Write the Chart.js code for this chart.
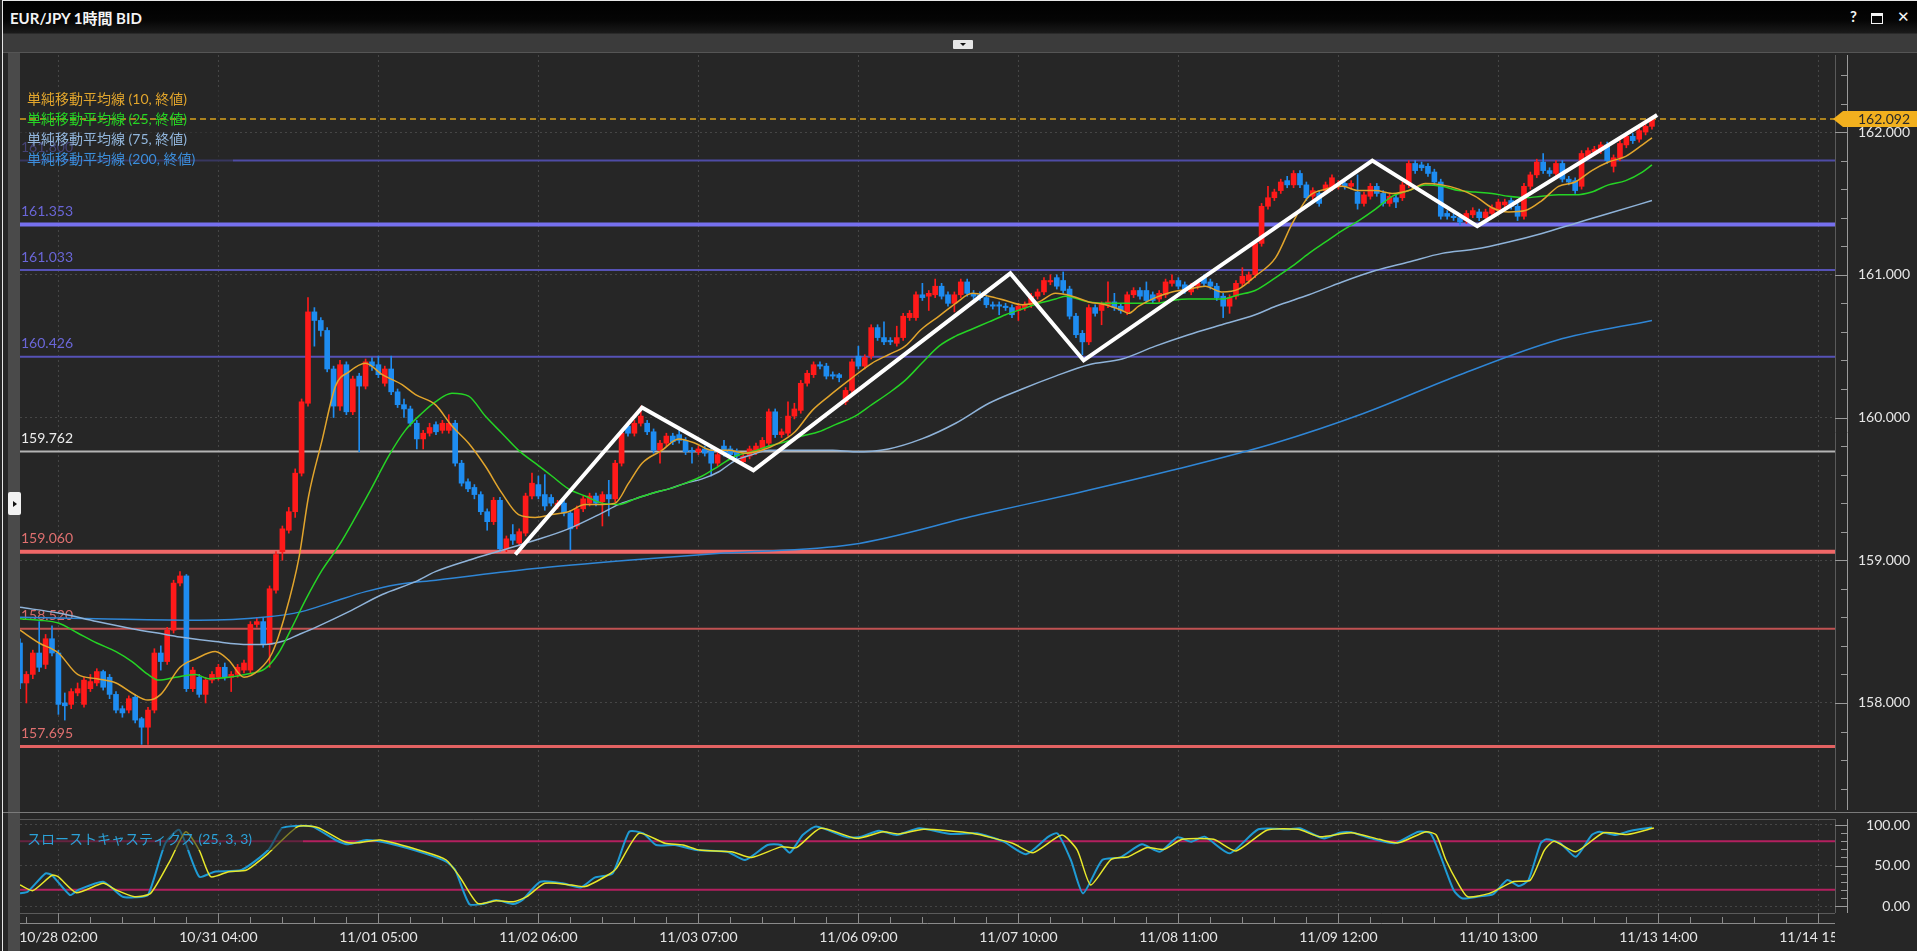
<!DOCTYPE html>
<html>
<head>
<meta charset="utf-8">
<title>EUR/JPY 1時間 BID</title>
<script src="https://cdn.jsdelivr.net/npm/chart.js@4.4.1/dist/chart.umd.min.js"></script>
<style>
  html, body { margin: 0; padding: 0; width: 1917px; height: 951px; overflow: hidden; background: #262626; font-family: Lato, "Noto Sans CJK JP", sans-serif; }
  #frame { position: absolute; left: 2px; top: 0; width: 1915px; height: 951px; border-left: 1px solid #e6e6e6; border-top: 1px solid #e6e6e6; box-sizing: border-box; }
  #titlebar { position: absolute; left: 3px; top: 1px; right: 0; height: 32px; background: linear-gradient(#000 0%, #050505 60%, #1a1a1a 100%); }
  #titlebar .name { position: absolute; left: 7px; top: 6px; color: #f4f4f4; font-weight: bold; font-size: 15px; }
  #btnHelp { position: absolute; left: 1850px; top: 7px; color: #f4f4f4; font-weight: bold; font-size: 15px; }
  #btnMax { position: absolute; left: 1871px; top: 13px; width: 10px; height: 7px; border: 1px solid #f4f4f4; border-top-width: 3px; }
  #btnClose { position: absolute; left: 1897px; top: 7px; color: #f4f4f4; font-size: 15px; }
  #toolbar { position: absolute; left: 3px; top: 33px; right: 0; height: 20px; background: #3b3b3b; border-top: 1px solid #2a2a2a; border-bottom: 1px solid #555; box-sizing: border-box; }
  #dropbtn { position: absolute; left: 953px; top: 40px; width: 20px; height: 9px; background: #e6e6e6; border-radius: 1px; }
  #dropbtn::after { content: ''; position: absolute; left: 7px; top: 3px; border-left: 3px solid transparent; border-right: 3px solid transparent; border-top: 3px solid #111; }
  #leftstrip { position: absolute; left: 8px; top: 53px; width: 12px; height: 898px; background: #4a4a4a; }
  #lefttab { position: absolute; left: 8px; top: 492px; width: 13px; height: 23px; background: #f2f2f2; border-radius: 2px; z-index: 5; }
  #lefttab::after { content: ''; position: absolute; left: 5px; top: 9px; border-top: 3px solid transparent; border-bottom: 3px solid transparent; border-left: 4px solid #111; }
  #sep { position: absolute; left: 3px; top: 812px; width: 1914px; height: 1px; background: #7a7a7a; }
  canvas { position: absolute; left: 0; }
  #main { top: 53px; }
  #stoch { top: 812px; }
</style>
</head>
<body>
<div id="frame"></div>
<div id="titlebar"><span class="name">EUR/JPY 1時間 BID</span></div>
<span id="btnHelp">?</span><div id="btnMax"></div><span id="btnClose">✕</span>
<div id="toolbar"></div>
<div id="dropbtn"></div>
<div id="leftstrip"></div>
<div id="lefttab"></div>
<div id="sep"></div>
<canvas id="main" width="1917" height="759"></canvas>
<canvas id="stoch" width="1917" height="139"></canvas>
<script>
// hourly bars, index 0 = first visible bar, 10/28 02:00 is bar 6
const tickLabels = ['10/28 02:00', '10/31 04:00', '11/01 05:00', '11/02 06:00', '11/03 07:00', '11/06 09:00',
  '11/07 10:00', '11/08 11:00', '11/09 12:00', '11/10 13:00', '11/13 14:00', '11/14 15:00'];
const tickBars = [6, 31, 56, 81, 106, 131, 156, 181, 206, 231, 256, 281];

const open = [
  158.42,158.14,158.20,158.35,158.27,158.45,158.35,158.00,157.99,158.07,
  157.99,158.10,158.14,158.22,158.18,158.06,157.96,157.95,158.04,157.89,
  157.83,157.95,158.35,158.29,158.51,158.84,158.89,158.10,158.18,158.06,
  158.16,158.18,158.25,158.18,158.20,158.23,158.23,158.55,158.57,158.41,
  158.79,159.06,159.21,159.34,159.61,160.10,160.74,160.68,160.61,160.34,
  160.08,160.37,160.04,160.29,160.22,160.39,160.37,160.24,160.34,160.18,
  160.09,160.06,159.96,159.85,159.89,
  159.95,159.91,159.91,159.96,159.68,159.55,159.51,159.46,159.34,159.27,
  159.42,159.08,159.18,159.12,159.19,159.45,159.53,159.46,159.44,159.38,
  159.40,159.33,159.24,159.36,159.40,159.45,159.41,159.46,159.43,159.68,
  159.94,159.89,159.96,159.96,159.90,159.77,159.82,159.87,159.88,159.84,
  159.77,159.76,159.78,159.77,159.68,159.80,159.78,159.76,159.69,159.73,
  159.76,159.78,159.82,160.04,159.88,159.89,160.01,160.05,160.24,160.30,
  160.37,160.36,160.30,160.30,160.11,160.19,
  160.43,160.36,160.43,160.63,160.56,160.54,160.52,160.56,160.70,160.70,
  160.86,160.85,160.86,160.92,160.86,160.80,160.86,160.95,160.87,160.86,
  160.84,160.79,160.79,160.78,160.77,160.75,160.77,160.79,160.85,160.88,
  160.95,160.98,160.96,160.90,160.71,160.59,160.53,160.77,160.75,160.79,
  160.81,160.78,160.74,160.86,160.89,160.89,160.86,160.83,160.86,160.94,
  160.96,160.93,160.88,160.92,160.98,160.95,160.92,160.85,160.78,160.85,
  160.94,160.96,161.00,161.22,161.48,161.54,
  161.59,161.66,161.63,161.71,161.63,161.55,161.57,161.59,161.61,161.62,
  161.64,161.62,161.58,161.50,161.55,161.62,161.57,161.50,161.54,161.54,
  161.63,161.78,161.77,161.76,161.72,161.65,161.43,161.41,161.40,161.38,
  161.42,161.44,161.40,161.43,161.45,161.49,161.52,161.48,161.41,161.62,
  161.70,161.79,161.73,161.71,161.78,161.67,161.66,161.62,161.83,161.86,
  161.87,161.91,161.76,161.82,161.91,161.97,161.95,162.00,162.04
];
const high = [
  158.45,158.22,158.37,158.57,158.48,158.54,158.37,158.07,158.10,158.14,
  158.18,158.20,158.24,158.23,158.20,158.08,157.98,158.05,158.06,157.90,
  157.97,158.38,158.40,158.53,158.86,158.92,158.90,158.25,158.20,158.18,
  158.22,158.27,158.28,158.22,158.27,158.30,158.57,158.60,158.60,158.82,
  159.06,159.24,159.37,159.64,160.13,160.84,160.77,160.70,160.63,160.36,
  160.40,160.39,160.29,160.31,160.41,160.42,160.43,160.36,160.43,160.20,
  160.13,160.08,159.98,159.91,159.96,
  159.97,159.98,160.02,159.98,159.70,159.57,159.53,159.48,159.36,159.44,
  159.44,159.17,159.25,159.22,159.47,159.61,159.59,159.60,159.46,159.42,
  159.42,159.35,159.38,159.45,159.47,159.47,159.48,159.56,159.70,159.91,
  159.96,159.98,160.08,159.98,159.92,159.84,159.89,159.89,159.93,159.86,
  159.79,159.80,159.80,159.79,159.76,159.84,159.80,159.78,159.75,159.80,
  159.82,159.86,160.06,160.06,159.92,160.11,160.10,160.26,160.33,160.39,
  160.39,160.38,160.32,160.31,160.21,160.41,
  160.50,160.44,160.65,160.65,160.67,160.56,160.64,160.73,160.75,160.88,
  160.94,160.89,160.97,160.94,160.88,160.88,160.97,160.97,160.89,160.88,
  160.86,160.81,160.81,160.80,160.79,160.80,160.81,160.87,160.90,160.98,
  161.00,161.00,161.02,160.92,160.73,160.61,160.79,160.79,160.81,160.95,
  160.87,160.80,160.88,160.91,160.91,160.95,160.88,160.89,160.97,161.00,
  160.98,160.95,160.94,160.96,161.00,160.97,160.94,160.87,160.86,160.96,
  161.05,161.02,161.24,161.50,161.62,161.60,
  161.67,161.69,161.73,161.73,161.65,161.61,161.59,161.65,161.70,161.66,
  161.66,161.66,161.70,161.58,161.64,161.64,161.59,161.57,161.56,161.65,
  161.80,161.80,161.79,161.78,161.74,161.67,161.45,161.43,161.42,161.45,
  161.47,161.46,161.46,161.49,161.53,161.53,161.54,161.50,161.64,161.72,
  161.81,161.85,161.75,161.80,161.80,161.69,161.68,161.87,161.89,161.90,
  161.93,161.93,161.84,161.94,161.99,161.99,162.03,162.06,162.11
];
const low = [
  158.10,158.00,158.17,158.22,158.24,158.33,157.92,157.88,157.96,158.05,
  157.97,158.08,158.12,158.09,158.03,157.93,157.90,157.93,157.86,157.71,
  157.71,157.93,158.23,158.27,158.49,158.82,158.08,158.08,158.04,158.00,
  158.14,158.16,158.16,158.08,158.18,158.21,158.21,158.53,158.39,158.25,
  158.77,159.00,159.19,159.30,159.59,160.08,160.50,160.57,160.32,160.00,
  160.05,160.02,160.02,159.76,160.20,160.33,160.28,160.22,160.16,160.07,
  160.00,159.94,159.78,159.78,159.87,
  159.88,159.89,159.89,159.66,159.52,159.48,159.43,159.32,159.21,159.25,
  159.06,159.06,159.11,159.10,159.17,159.43,159.43,159.35,159.38,159.36,
  159.31,159.07,159.22,159.34,159.38,159.38,159.24,159.31,159.41,159.66,
  159.87,159.87,159.94,159.88,159.75,159.68,159.80,159.81,159.82,159.74,
  159.68,159.74,159.73,159.59,159.66,159.73,159.72,159.70,159.67,159.71,
  159.74,159.76,159.80,159.86,159.86,159.87,159.99,160.03,160.22,160.28,
  160.34,160.27,160.27,160.25,160.09,160.17,
  160.34,160.34,160.41,160.54,160.51,160.51,160.50,160.54,160.68,160.68,
  160.82,160.75,160.84,160.83,160.78,160.74,160.84,160.85,160.83,160.82,
  160.77,160.76,160.72,160.75,160.70,160.68,160.75,160.77,160.83,160.86,
  160.93,160.90,160.87,160.69,160.56,160.44,160.51,160.71,160.65,160.77,
  160.75,160.73,160.72,160.84,160.83,160.80,160.80,160.81,160.84,160.92,
  160.90,160.87,160.86,160.90,160.92,160.90,160.82,160.70,160.73,160.83,
  160.92,160.94,160.98,161.20,161.46,161.52,
  161.57,161.61,161.61,161.61,161.52,161.52,161.48,161.57,161.59,161.60,
  161.60,161.60,161.46,161.48,161.53,161.55,161.48,161.48,161.47,161.52,
  161.61,161.71,161.73,161.69,161.63,161.39,161.39,161.38,161.35,161.36,
  161.40,161.38,161.38,161.41,161.43,161.47,161.46,161.38,161.39,161.60,
  161.68,161.71,161.69,161.69,161.65,161.63,161.57,161.60,161.81,161.84,
  161.85,161.78,161.72,161.80,161.89,161.92,161.93,161.98,162.02
];
const close = [
  158.14,158.20,158.35,158.25,158.45,158.35,157.99,157.98,158.08,158.10,
  158.16,158.15,158.22,158.11,158.06,157.95,157.93,158.03,157.88,157.83,
  157.95,158.35,158.29,158.51,158.84,158.89,158.10,158.23,158.06,158.16,
  158.20,158.25,158.18,158.20,158.25,158.28,158.55,158.57,158.41,158.80,
  159.04,159.22,159.34,159.61,160.11,160.74,160.68,160.61,160.34,160.08,
  160.37,160.04,160.27,160.22,160.39,160.36,160.30,160.34,160.18,160.09,
  160.06,159.96,159.85,159.89,159.93,
  159.90,159.96,159.96,159.68,159.54,159.50,159.46,159.34,159.27,159.42,
  159.08,159.15,159.14,159.20,159.45,159.54,159.45,159.38,159.40,159.40,
  159.33,159.22,159.36,159.43,159.45,159.40,159.46,159.43,159.68,159.89,
  159.89,159.96,160.01,159.90,159.77,159.82,159.87,159.83,159.84,159.76,
  159.76,159.78,159.75,159.68,159.74,159.75,159.74,159.73,159.73,159.78,
  159.80,159.84,160.04,159.88,159.90,160.01,160.06,160.24,160.31,160.37,
  160.36,160.29,160.29,160.28,160.19,160.39,
  160.36,160.42,160.63,160.56,160.53,160.53,160.56,160.71,160.73,160.86,
  160.84,160.87,160.92,160.85,160.80,160.86,160.95,160.87,160.85,160.84,
  160.79,160.78,160.78,160.77,160.72,160.78,160.79,160.85,160.88,160.96,
  160.96,160.92,160.89,160.71,160.58,160.53,160.77,160.73,160.79,160.81,
  160.77,160.75,160.86,160.89,160.85,160.82,160.82,160.87,160.95,160.96,
  160.92,160.89,160.92,160.94,160.94,160.92,160.84,160.78,160.84,160.94,
  160.99,161.00,161.22,161.48,161.54,161.58,
  161.65,161.63,161.71,161.63,161.54,161.59,161.50,161.63,161.68,161.63,
  161.62,161.64,161.50,161.56,161.62,161.57,161.50,161.55,161.51,161.63,
  161.78,161.73,161.75,161.71,161.65,161.41,161.41,161.40,161.37,161.43,
  161.45,161.40,161.44,161.47,161.51,161.51,161.48,161.41,161.62,161.70,
  161.79,161.73,161.71,161.78,161.67,161.65,161.59,161.85,161.87,161.88,
  161.91,161.80,161.82,161.92,161.97,161.94,162.01,162.04,162.092
];

// moving averages: [bar, price]
const sma10 = [[0,158.51],[3,158.42],[6,158.35],[9,158.20],[12,158.17],[15,158.14],[17.5,158.07],[20,158.02],[22,158.06],[25,158.25],[27.5,158.31],[30.5,158.36],[32.6,158.30],[35,158.18],[37.3,158.23],[39.4,158.35],[41.5,158.63],[43.6,159.02],[45.1,159.45],[47.2,159.84],[49.3,160.22],[51.4,160.32],[54,160.38],[56.6,160.30],[59.7,160.23],[61.8,160.16],[64.9,160.09],[67.5,159.94],[70.1,159.82],[72.7,159.66],[75.3,159.47],[77.9,159.32],[80.5,159.30],[83.1,159.32],[85.7,159.34],[88.3,159.39],[90.9,159.39],[93,159.40],[95.1,159.54],[97.2,159.68],[100.3,159.77],[102.9,159.85],[105.5,159.82],[108.1,159.77],[110.7,159.77],[113.3,159.75],[115.9,159.77],[118.5,159.82],[121.1,159.90],[123.8,160.05],[126.4,160.15],[129.5,160.26],[133.1,160.38],[135.7,160.44],[138.3,160.50],[140.9,160.62],[143.6,160.71],[146.2,160.80],[148.8,160.87],[151.4,160.85],[154,160.82],[156.6,160.79],[159.2,160.81],[161.8,160.87],[164.4,160.85],[167,160.81],[169.6,160.79],[172.2,160.75],[173.2,160.73],[174.8,160.78],[177.4,160.84],[180,160.88],[182.6,160.90],[185.2,160.92],[187.8,160.88],[190.4,160.90],[193,160.99],[196.2,161.12],[198.8,161.36],[201.4,161.55],[204,161.60],[206.6,161.62],[209.2,161.59],[211.8,161.59],[214.4,161.57],[217,161.59],[219.6,161.64],[222.2,161.63],[224.8,161.60],[227.4,161.55],[230,161.47],[232.6,161.44],[235.2,161.45],[237.8,161.52],[240.4,161.62],[243,161.65],[245.6,161.73],[248.2,161.79],[250.9,161.83],[253.5,161.91],[255,161.96]];
const sma25 = [[0,158.59],[3,158.58],[6,158.56],[9,158.49],[12,158.42],[15,158.36],[17.5,158.29],[20,158.20],[21.7,158.16],[24.3,158.18],[27.4,158.20],[29.5,158.17],[32.6,158.18],[35.2,158.20],[38.3,158.24],[40.4,158.35],[42.5,158.53],[44.6,158.72],[47.2,158.93],[49.8,159.10],[52.4,159.30],[55,159.51],[57.6,159.73],[60.2,159.91],[62.8,160.03],[64.9,160.11],[67.5,160.17],[70.1,160.15],[72.7,160.01],[75.3,159.89],[77.9,159.77],[80.5,159.68],[83.1,159.59],[85.7,159.50],[88.3,159.45],[90.9,159.40],[93.5,159.39],[96.1,159.43],[98.8,159.47],[101.4,159.50],[104,159.54],[106.6,159.59],[109.2,159.66],[111.8,159.73],[114.4,159.76],[117,159.80],[119.6,159.83],[122.2,159.87],[124.8,159.90],[127.4,159.95],[130.5,160.01],[133.1,160.09],[135.7,160.17],[138.3,160.26],[140.9,160.38],[143.6,160.50],[146.2,160.57],[148.8,160.62],[151.4,160.67],[154,160.72],[156.6,160.76],[159.2,160.80],[161.8,160.83],[163.3,160.85],[167,160.81],[169.6,160.80],[172.2,160.80],[174.8,160.80],[177.4,160.80],[180,160.82],[182.6,160.83],[185.2,160.83],[187.8,160.83],[190.4,160.86],[193,160.89],[196.2,160.98],[198.8,161.06],[201.4,161.15],[204,161.23],[206.6,161.31],[209.2,161.38],[211.8,161.46],[214.4,161.55],[217,161.59],[219.6,161.63],[222.2,161.62],[224.8,161.59],[227.4,161.58],[230,161.57],[232.6,161.55],[235.2,161.54],[237.8,161.55],[240.4,161.56],[243,161.56],[245.6,161.58],[248.2,161.63],[250.9,161.66],[253.5,161.72],[255,161.77]];
const sma75 = [[0,158.67],[6,158.63],[12,158.57],[17.5,158.52],[22.7,158.48],[25.3,158.46],[30.5,158.43],[35.7,158.41],[38.3,158.41],[40.9,158.43],[43.6,158.48],[46.2,158.53],[51.4,158.64],[56.6,158.76],[61.8,158.85],[64.9,158.92],[70.1,159.00],[75.3,159.07],[80.5,159.14],[85.7,159.22],[90.9,159.33],[93.5,159.39],[96.1,159.43],[98.8,159.47],[101.4,159.50],[104,159.54],[106.6,159.57],[109.2,159.62],[111.8,159.70],[114.4,159.74],[117,159.77],[122,159.77],[127,159.77],[130.5,159.76],[135.7,159.78],[140.9,159.85],[146.2,159.96],[151.4,160.10],[156.6,160.20],[161.8,160.29],[167,160.37],[172.2,160.41],[177.4,160.50],[182.6,160.58],[187.8,160.65],[193,160.72],[196.2,160.78],[201.4,160.86],[206.6,160.95],[211.8,161.03],[217,161.09],[222.2,161.15],[227.4,161.18],[232.6,161.23],[237.8,161.29],[243,161.36],[248.2,161.43],[255,161.52]];
const sma200 = [[0,158.60],[12,158.59],[28,158.58],[38,158.60],[44,158.64],[49,158.71],[54,158.78],[59,158.83],[65,158.86],[80,158.94],[95,159.00],[110,159.05],[130,159.11],[150,159.32],[165,159.47],[180,159.63],[196,159.82],[210,160.03],[225,160.30],[240,160.54],[255,160.68]];

// slow stochastics (25,3,3): [bar, value]
const stochK = [[0,15.6],[1.2,17.7],[4,40.3],[5,38],[7.8,13.6],[9.1,19.8],[13,30],[16,11.5],[17.9,10.7],[20,13.6],[22.7,77.4],[24.9,93.8],[28,36.2],[30.4,42.4],[34.6,44.4],[38.8,69.1],[40.9,95.9],[43,98.8],[45.7,98],[49.3,81.5],[51.3,76.1],[54.1,81.5],[57.6,77.4],[63.2,65],[66.6,54.8],[68,44.4],[70.2,2.5],[72.3,2.5],[74.4,7.4],[77.1,2.5],[78.5,7.4],[81.3,30],[84.8,28],[87.6,23],[89.8,35],[92.6,40.3],[95.2,91.7],[97.4,89.7],[99.4,75.3],[102.3,75.3],[105.7,69.1],[110.5,67],[113.3,56.8],[116.8,75.3],[118.9,75.3],[120.3,65.8],[122.3,87.6],[124.4,98],[129.3,84.8],[131.4,85.6],[134.2,93],[137,87.6],[140.5,95.9],[145.4,88.9],[149.5,89.7],[153.7,79.4],[157.2,63.8],[160.7,85.6],[162.1,89.7],[164.2,56.8],[166.1,15.6],[169.1,56.8],[171.9,60],[175.3,76.1],[178.1,67],[180.9,84.8],[183,79.4],[185.1,85.6],[189,65],[193.5,94.7],[198.4,94.7],[200,95.9],[203.7,83.5],[206.2,90.5],[208,91],[211.1,83.5],[214.8,77.4],[218.5,91.7],[220.4,89.7],[221.9,63],[224,19.8],[225.3,9.5],[227.7,11.5],[230.2,14.8],[232.4,32.1],[234.2,24.7],[235.7,32],[237.6,77.4],[238.5,82.3],[240.7,77.4],[243.1,60.9],[245.6,87.6],[246.8,91.7],[249.3,87.6],[251.7,93],[255,97]];
const stochD = [[0,26],[2,19],[5,38],[6,36],[8.8,16.5],[13,28],[15,19.8],[17.9,11.5],[20.4,15.6],[23.5,56.8],[25.9,91.7],[28,69],[29.8,36.2],[32.6,42.4],[35.4,44.4],[38.8,65],[43.4,98],[46.5,97],[50.7,79.4],[52.8,78],[56.3,81.5],[63.2,67],[66.6,56.8],[68.7,36.2],[71.5,3.3],[74.4,6.6],[77.1,5.4],[79.2,11.5],[82,28],[86.2,26],[88.3,24],[91.8,38],[93.2,46.5],[96.7,89.7],[100.8,77.4],[103.6,75.3],[106.2,69],[111.2,67],[114.3,60],[118.9,73],[121.3,72],[125.1,95.9],[130.7,83.5],[134.9,91.7],[137.3,88.9],[141.2,94.7],[148.8,89.7],[155.1,77.4],[158.3,65.8],[162.8,87.6],[165.2,69],[167.3,26],[170.5,57.6],[173.2,60.9],[176,72],[178.8,70],[181.6,82.3],[186.5,82.3],[190,68],[194.9,93.8],[199.7,94.7],[203.1,85.6],[208,90.5],[212.4,82.3],[215.4,78],[219.7,91.7],[221.3,87.6],[222.8,56.8],[224.7,28],[226.2,11.5],[229.6,15.6],[233.3,30],[236,32],[238.2,69],[239.7,80],[243.1,67],[247.4,90.5],[251.1,88.3],[255.3,96.4]];
const stochBands = [80, 20];

// drawn price levels and the hand-drawn zigzag
const levels = [161.800, 161.353, 161.033, 160.426, 159.762, 159.060, 158.520, 157.695];
const levelColors = ['#4f4ca6', '#7670ee', '#5652b6', '#5652b6', '#b4b4b4', '#f06868', '#c05252', '#e36262'];
const levelTextColors = ['#6a66d8', '#6a66d8', '#6a66d8', '#6a66d8', '#ececec', '#e07070', '#d86c6c', '#e07070'];
const levelWidths = [2, 4, 2, 2, 2, 4, 2, 3];
const zigzagBars = [77.4, 97.2, 114.6, 154.75, 166.2, 211.3, 227.7, 255.8];
const zigzagPrices = [159.04, 160.07, 159.63, 161.01, 160.40, 161.80, 161.34, 162.12];
const lastPrice = 162.092;

const legendLabels = ['単純移動平均線 (10, 終値)', '単純移動平均線 (25, 終値)', '単純移動平均線 (75, 終値)', '単純移動平均線 (200, 終値)'];
const legendColors = ['#e2a52c', '#25d425', '#92b6dc', '#3b8edb'];
const stochTitle = 'スローストキャスティクス (25, 3, 3)';

const xMin = 0, xMax = 283.6;
const FONT = '14px Lato, "Noto Sans CJK JP", sans-serif';
const UP = '#ff1a1a', DOWN = '#1e8cf0';
const GRID = '#464646';
const VEIL = 'rgba(38,38,38,0.55)';

const isInt = (v) => Math.abs(v - Math.round(v)) < 1e-6;
const pts = (arr) => arr.map(([x, y]) => ({x, y}));
const flat = (v) => [{x: xMin, y: v}, {x: xMax, y: v}];

const lineDs = (data, color, width, order, extra) => Object.assign({
  type: 'line', data, borderColor: color, borderWidth: width, pointRadius: 0,
  fill: false, order, cubicInterpolationMode: 'monotone'
}, extra || {});

const xScale = () => ({
  type: 'linear', min: xMin, max: xMax, offset: false,
  grid: {color: GRID, drawTicks: false, offset: false},
  border: {display: false, dash: [2, 3]},
  ticks: {display: false},
  afterBuildTicks: (s) => { s.ticks = tickBars.map((v) => ({value: v})); },
  afterFit: (s) => { s.height = 0; s.paddingLeft = 0; s.paddingRight = 0; }
});

const yScale = (min, max, values, labelTest, digits) => ({
  position: 'right', min, max,
  grid: {color: (c) => (c.tick && labelTest(c.tick.value) ? GRID : 'rgba(0,0,0,0)'), drawTicks: false},
  border: {display: false, dash: [2, 3]},
  ticks: {color: '#e6e6e6', font: {family: 'Lato', size: 14}, crossAlign: 'far', autoSkip: false,
    callback: (v) => (labelTest(v) ? Number(v).toFixed(digits) : '')},
  afterBuildTicks: (s) => { s.ticks = values.map((v) => ({value: v})); },
  afterFit: (s) => { s.width = 75; s.paddingTop = 0; s.paddingBottom = 0; }
});

const priceTicks = [];
for (let k = 0; k <= 25; k++) priceTicks.push(+(157.4 + k * 0.2).toFixed(1));
const stochTicks = [0, 10, 20, 30, 40, 50, 60, 70, 80, 90, 100];

const drawYAxisDecor = (chart, majorTest) => {
  const {ctx, chartArea: a, scales: {y}} = chart;
  ctx.save();
  ctx.lineWidth = 1;
  ctx.strokeStyle = '#5a5a5a';
  ctx.beginPath(); ctx.moveTo(a.right + 0.5, a.top); ctx.lineTo(a.right + 0.5, a.bottom); ctx.stroke();
  ctx.strokeStyle = '#9a9a9a';
  ctx.beginPath(); ctx.moveTo(a.right + 12.5, a.top); ctx.lineTo(a.right + 12.5, a.bottom); ctx.stroke();
  y.ticks.forEach((t) => {
    const py = Math.round(y.getPixelForValue(t.value)) + 0.5;
    ctx.beginPath();
    ctx.moveTo(a.right + (majorTest(t.value) ? 0 : 6), py);
    ctx.lineTo(a.right + 12, py);
    ctx.stroke();
  });
  ctx.restore();
};

const mainDecor = {
  id: 'mainDecor',
  beforeDatasetsDraw(chart) {
    const {ctx, chartArea: a, scales: {y}} = chart;
    ctx.save();
    ctx.font = FONT;
    ctx.textBaseline = 'middle';
    levels.forEach((v, i) => {
      ctx.fillStyle = levelTextColors[i];
      ctx.fillText(v.toFixed(3), a.left + 1, y.getPixelForValue(v) - 13);
    });
    ctx.restore();
  },
  beforeDatasetDraw(chart, args) {
    // veil behind the legend: over the level lines, under the price line
    if (args.index !== 7) return;
    const {ctx, chartArea: a} = chart;
    ctx.save();
    ctx.fillStyle = VEIL;
    ctx.fillRect(a.left, a.top + 33, 213, 82);
    ctx.restore();
  },
  afterDatasetsDraw(chart) {
    const {ctx, chartArea: a} = chart;
    ctx.save();
    ctx.font = FONT;
    ctx.textBaseline = 'middle';
    legendLabels.forEach((t, i) => {
      ctx.fillStyle = legendColors[i];
      ctx.fillText(t, a.left + 7, a.top + 44 + i * 20.3);
    });
    ctx.restore();
  },
  afterDraw(chart) {
    drawYAxisDecor(chart, isInt);
    const {ctx, chartArea: a, scales: {y}} = chart;
    const py = y.getPixelForValue(lastPrice);
    ctx.save();
    ctx.fillStyle = '#f2b01e';
    ctx.beginPath();
    ctx.moveTo(a.right - 2, py);
    ctx.lineTo(a.right + 8, py - 8);
    ctx.lineTo(chart.width, py - 8);
    ctx.lineTo(chart.width, py + 8);
    ctx.lineTo(a.right + 8, py + 8);
    ctx.closePath();
    ctx.fill();
    ctx.fillStyle = '#2a2a2a';
    ctx.font = FONT;
    ctx.textAlign = 'right';
    ctx.textBaseline = 'middle';
    ctx.fillText(lastPrice.toFixed(3), chart.width - 7, py + 1);
    ctx.restore();
  }
};

const stochDecor = {
  id: 'stochDecor',
  afterDatasetsDraw(chart) {
    // label with its veil, over the lines
    const {ctx, chartArea: a} = chart;
    ctx.save();
    ctx.fillStyle = VEIL;
    ctx.fillRect(a.left, a.top + 9, 283, 22);
    ctx.font = FONT;
    ctx.textBaseline = 'middle';
    ctx.fillStyle = '#2ba2d8';
    ctx.fillText(stochTitle, a.left + 7, a.top + 20);
    ctx.restore();
  },
  afterDraw(chart) {
    drawYAxisDecor(chart, (v) => v % 50 === 0);
    const {ctx, chartArea: a, scales: {x}} = chart;
    ctx.save();
    ctx.lineWidth = 1;
    ctx.strokeStyle = '#5a5a5a';
    ctx.beginPath(); ctx.moveTo(a.left, a.top + 0.5); ctx.lineTo(a.right, a.top + 0.5); ctx.stroke();
    ctx.beginPath(); ctx.moveTo(a.left, a.bottom + 0.5); ctx.lineTo(a.right, a.bottom + 0.5); ctx.stroke();
    ctx.strokeStyle = '#8a8a8a';
    ctx.beginPath(); ctx.moveTo(a.left, a.bottom + 10.5); ctx.lineTo(a.right, a.bottom + 10.5); ctx.stroke();
    for (let b = 1; b <= xMax; b += 5) {
      const px = Math.round(x.getPixelForValue(b)) + 0.5;
      const major = tickBars.includes(b);
      ctx.beginPath();
      ctx.moveTo(px, a.bottom + (major ? 0 : 4));
      ctx.lineTo(px, a.bottom + 10);
      ctx.stroke();
    }
    ctx.beginPath();
    ctx.rect(a.left, a.bottom, a.right - a.left, 40);
    ctx.clip();
    ctx.font = FONT;
    ctx.fillStyle = '#e6e6e6';
    ctx.textAlign = 'center';
    ctx.textBaseline = 'middle';
    tickBars.forEach((b, i) => ctx.fillText(tickLabels[i], x.getPixelForValue(b), a.bottom + 24));
    ctx.restore();
  }
};

const build = () => {
  const bodies = open.map((o, i) => ({x: i, y: [o, close[i]]}));
  const wicks = open.map((o, i) => ({x: i, y: [low[i], high[i]]}));
  const candleColors = open.map((o, i) => (close[i] >= o ? UP : DOWN));

  const datasets = [
    lineDs(zigzagBars.map((b, i) => ({x: b, y: zigzagPrices[i]})), '#ffffff', 4, 0,
      {cubicInterpolationMode: 'default', tension: 0, borderJoinStyle: 'miter'}),
    lineDs(pts(sma10), legendColors[0], 1.5, 1),
    lineDs(pts(sma25), legendColors[1], 1.5, 2),
    lineDs(pts(sma75), '#8fb3d9', 1.5, 3),
    lineDs(pts(sma200), '#2f86d6', 1.5, 4),
    {type: 'bar', data: bodies, backgroundColor: candleColors, barThickness: 5, grouped: false, minBarLength: 1, order: 5},
    {type: 'bar', data: wicks, backgroundColor: candleColors, barThickness: 1, grouped: false, order: 6},
    lineDs(flat(lastPrice), '#d9a21c', 1.5, 7, {borderDash: [6, 4]})
  ];
  levels.forEach((v, i) => datasets.push(lineDs(flat(v), levelColors[i], levelWidths[i], 8 + i)));

  new Chart(document.getElementById('main'), {
    type: 'bar',
    data: {datasets},
    options: {
      responsive: false, animation: false, devicePixelRatio: 1,
      layout: {padding: {left: 20, right: 7, top: 2, bottom: 2}},
      plugins: {legend: {display: false}, tooltip: {enabled: false}},
      scales: {
        x: xScale(),
        y: yScale(157.25, 162.54, priceTicks, isInt, 3)
      }
    },
    plugins: [mainDecor]
  });

  const stochSets = [
    lineDs(pts(stochD), '#e8e82a', 1.5, 0, {tension: 0.2, cubicInterpolationMode: 'default'}),
    lineDs(pts(stochK), '#1f9bd4', 2, 1, {tension: 0.2, cubicInterpolationMode: 'default'})
  ];
  stochBands.forEach((v, i) => stochSets.push(lineDs(flat(v), '#b3205f', 2, 2 + i)));

  new Chart(document.getElementById('stoch'), {
    type: 'line',
    data: {datasets: stochSets},
    options: {
      responsive: false, animation: false, devicePixelRatio: 1,
      layout: {padding: {left: 20, right: 7, top: 7, bottom: 38}},
      plugins: {legend: {display: false}, tooltip: {enabled: false}},
      scales: {
        x: xScale(),
        y: yScale(-8.6, 107.4, stochTicks, (v) => v % 50 === 0, 2)
      }
    },
    plugins: [stochDecor]
  });
};

Promise.all([
  document.fonts.load('14px Lato'),
  document.fonts.load('bold 15px Lato'),
  document.fonts.load('14px "Noto Sans CJK JP"', '単純移動平均線スロー')
]).catch(() => {}).then(build);
</script>
</body>
</html>
